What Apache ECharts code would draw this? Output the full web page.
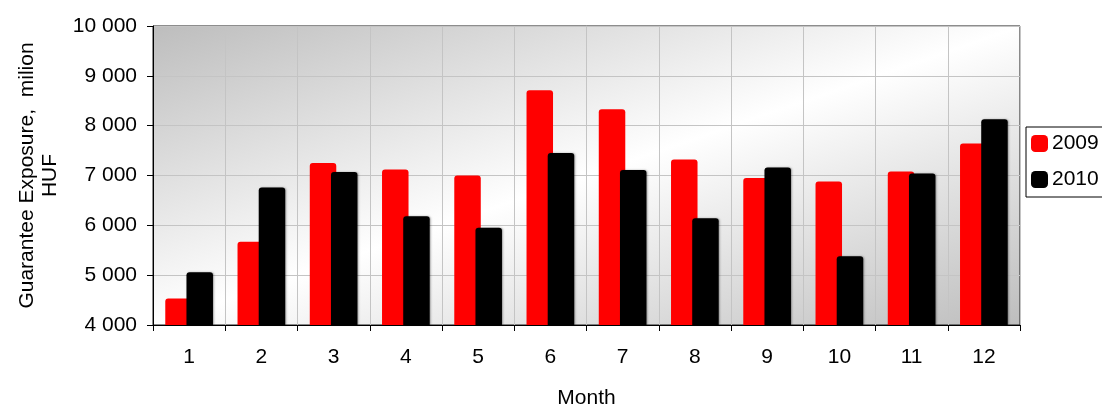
<!DOCTYPE html>
<html>
<head>
<meta charset="utf-8">
<script src="https://cdn.jsdelivr.net/npm/echarts@6/dist/echarts.min.js"></script>
<style>
  html, body { margin: 0; padding: 0; background: #ffffff; }
  #chart { width: 1102px; height: 405px; }
</style>
</head>
<body>
<div id="chart"></div>
<script>
// Monthly guarantee exposure, million HUF
const months = ['1', '2', '3', '4', '5', '6', '7', '8', '9', '10', '11', '12'];
const exposure2009 = [4530, 5670, 7250, 7120, 7000, 8710, 8330, 7320, 6950, 6880, 7080, 7640];
const exposure2010 = [5060, 6760, 7070, 6180, 5950, 7450, 7110, 6140, 7160, 5380, 7040, 8130];
const seriesNames = ['2009', '2010'];

const FONT = '"Liberation Sans", Arial, sans-serif';

// plot box in pixels, used to orient the background gradient along the anti-diagonal
const plotW = 1102 - 153 - 82;
const plotH = 405 - 26 - 80;
const g2 = plotW * plotW + plotH * plotH;
const gx2 = 2 * plotH * plotH / g2;
const gy2 = 2 * plotW * plotW / g2;

function spaced(v) {
  return String(v).replace(/\B(?=(\d{3})+(?!\d))/g, ' ');
}

const chart = echarts.init(document.getElementById('chart'), null, { renderer: 'canvas' });

chart.setOption({
  animation: false,
  textStyle: { fontFamily: FONT, color: '#000' },
  grid: {
    left: 153, right: 82, top: 26, bottom: 80,
    containLabel: false,
    outerBoundsMode: 'none',
    show: true,
    borderColor: '#1a1a1a',
    borderWidth: 1,
    backgroundColor: {
      type: 'linear', x: 0, y: 0, x2: gx2, y2: gy2,
      colorStops: [
        { offset: 0, color: '#bdbdbd' },
        { offset: 0.5, color: '#ffffff' },
        { offset: 1, color: '#bdbdbd' }
      ]
    }
  },
  legend: {
    orient: 'vertical',
    left: 1026, top: 127,
    padding: [6, 30, 7, 5],
    itemGap: 15,
    itemWidth: 17, itemHeight: 17,
    icon: 'roundRect',
    backgroundColor: '#ffffff',
    borderColor: '#000',
    borderWidth: 1,
    borderRadius: 0,
    textStyle: { fontFamily: FONT, fontSize: 21, color: '#000', padding: [0, 0, 0, -1] },
    data: seriesNames
  },
  xAxis: {
    type: 'category',
    data: months,
    boundaryGap: true,
    name: 'Month',
    nameLocation: 'middle',
    nameGap: 63,
    nameTextStyle: { fontFamily: FONT, fontSize: 21, color: '#000' },
    axisLine: { show: true, lineStyle: { color: '#000', width: 1 } },
    axisTick: { show: true, length: 6, inside: false, lineStyle: { color: '#000' } },
    axisLabel: { interval: 0, margin: 22, fontFamily: FONT, fontSize: 21, color: '#000' },
    splitLine: { show: true, lineStyle: { color: '#c4c4c4', width: 1 } }
  },
  yAxis: {
    type: 'value',
    min: 4000, max: 10000, interval: 1000,
    name: 'Guarantee Exposure,  milion\nHUF',
    nameLocation: 'middle',
    nameRotate: 90,
    nameGap: 91,
    nameTextStyle: { fontFamily: FONT, fontSize: 21, color: '#000', lineHeight: 23, align: 'center' },
    axisLine: { show: true, lineStyle: { color: '#000', width: 1 } },
    axisTick: { show: true, length: 6, inside: false, lineStyle: { color: '#000' } },
    axisLabel: { margin: 16, fontFamily: FONT, fontSize: 21, color: '#000', formatter: spaced },
    splitLine: { show: true, lineStyle: { color: '#c4c4c4', width: 1 } }
  },
  series: [
    {
      name: seriesNames[0],
      type: 'bar',
      data: exposure2009,
      barWidth: 26.5,
      barGap: '-20%',
      itemStyle: { color: '#ff0000', borderRadius: [3, 3, 0, 0] }
    },
    {
      name: seriesNames[1],
      type: 'bar',
      data: exposure2010,
      barWidth: 26.5,
      barGap: '-20%',
      itemStyle: {
        color: '#000000',
        borderRadius: [3, 3, 0, 0],
        shadowColor: 'rgba(0,0,0,0.35)',
        shadowBlur: 2,
        shadowOffsetX: 1
      }
    }
  ]
});
</script>
</body>
</html>
